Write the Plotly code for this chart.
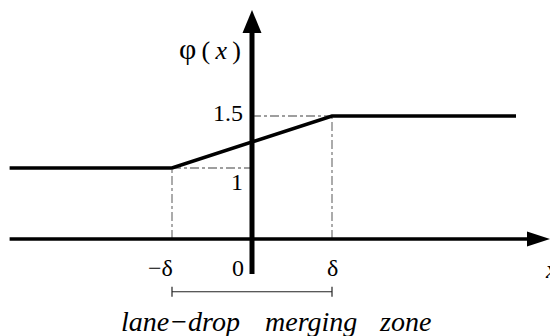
import plotly.graph_objects as go

# Piecewise merging-zone weight phi(x): flat at 1 before -delta, linear ramp, flat at 1.5 after delta
x_knots = [-3.03, -1.0, 1.0, 3.3]
phi_vals = [1.0, 1.0, 1.5, 1.5]
delta = 1.0
phi_low, phi_high = 1.0, 1.5

x_tick_pos = [-delta, 0.0, delta]
x_tick_text = ["\u2212\u03b4", "0", "\u03b4"]
y_tick_pos = [phi_high, phi_low]
y_tick_text = ["1.5", "1"]
zone_words = ["lane\u2212drop", "merging", "zone"]

W, H = 550, 336
X_RANGE = [-3.15, 3.725]
Y_RANGE = [1 - 168 / 104, 1 + 168 / 104]
X_AXIS_LEVEL = 0.317  # where the horizontal axis is drawn in this schematic
SERIF = "Liberation Serif"
INK = "#000000"
GUIDE = "#7f7f7f"

fig = go.Figure()

fig.add_trace(go.Scatter(
    x=x_knots, y=phi_vals, mode="lines",
    line=dict(color=INK, width=3.6), hoverinfo="skip", showlegend=False,
))

shapes = []
# guide lines from the break points to the axes
guide = dict(type="line", line=dict(color=GUIDE, width=1.3, dash="dashdot"), layer="below")
shapes.append(dict(guide, x0=-delta, x1=-delta, y0=X_AXIS_LEVEL, y1=phi_low))
shapes.append(dict(guide, x0=-delta, x1=0, y0=phi_low, y1=phi_low))
shapes.append(dict(guide, x0=delta, x1=delta, y0=X_AXIS_LEVEL, y1=phi_high))
shapes.append(dict(guide, x0=0, x1=delta, y0=phi_high, y1=phi_high))

# horizontal axis with arrowhead
shapes.append(dict(type="line", x0=-3.03, x1=3.45, y0=X_AXIS_LEVEL, y1=X_AXIS_LEVEL,
                   line=dict(color=INK, width=3.6)))
shapes.append(dict(type="path", xsizemode="pixel", ysizemode="pixel",
                   xanchor=X_RANGE[1], yanchor=X_AXIS_LEVEL,
                   path="M 0 0 L -23 7.5 L -23 -7.5 Z",
                   fillcolor=INK, line=dict(color=INK, width=0)))

# vertical axis with arrowhead
shapes.append(dict(type="line", x0=0, x1=0, y0=-0.02, y1=2.32,
                   line=dict(color=INK, width=5)))
shapes.append(dict(type="path", xsizemode="pixel", ysizemode="pixel",
                   xanchor=0, yanchor=1 + 158 / 104,
                   path="M 0 0 L -9.5 -23 L 9.5 -23 Z",
                   fillcolor=INK, line=dict(color=INK, width=0)))

# bracket marking the merging zone
br_y = -0.19
bracket = dict(type="line", line=dict(color="#222222", width=1.2))
shapes.append(dict(bracket, x0=-delta, x1=delta, y0=br_y, y1=br_y))
shapes.append(dict(bracket, x0=-delta, x1=-delta, y0=br_y - 0.048, y1=br_y + 0.048))
shapes.append(dict(bracket, x0=delta, x1=delta, y0=br_y - 0.048, y1=br_y + 0.048))

annotations = []
tick_font = dict(family=SERIF, size=24, color=INK)
annotations.append(dict(x=-0.09, y=y_tick_pos[0], text=y_tick_text[0], xanchor="right",
                        yanchor="middle", yshift=3, showarrow=False, font=tick_font))
annotations.append(dict(x=-0.09, y=y_tick_pos[1], text=y_tick_text[1], xanchor="right",
                        yanchor="top", yshift=1, showarrow=False, font=tick_font))
x_lab_shift = [-0.14, -0.18, 0.01]
for xv, dx, txt in zip(x_tick_pos, x_lab_shift, x_tick_text):
    annotations.append(dict(x=xv + dx, y=0.04, text=txt, xanchor="center", yanchor="middle",
                            showarrow=False, font=tick_font))

# axis titles
annotations.append(dict(
    x=-0.53, y=2.13, yshift=2,
    text="<span style='font-size:30px'>\u03c6</span>\u2009(\u2009<i>x</i>\u2009)",
    xanchor="center", yanchor="middle", showarrow=False,
    font=dict(family=SERIF, size=26, color=INK)))
annotations.append(dict(x=3.64, y=0.02, text="<i>x</i>", xanchor="left", yanchor="middle",
                        showarrow=False, font=dict(family=SERIF, size=26, color=INK)))

# merging-zone caption, one word group per slot under the bracket
word_x = [-0.90, 0.74, 1.91]
for wx, word in zip(word_x, zone_words):
    annotations.append(dict(x=wx, y=-0.51, yshift=4, text="<i>" + word + "</i>",
                            xanchor="center", yanchor="middle", showarrow=False,
                            font=dict(family=SERIF, size=28, color=INK)))

fig.update_layout(
    width=W, height=H,
    margin=dict(l=0, r=0, t=0, b=0),
    paper_bgcolor="white", plot_bgcolor="white",
    xaxis=dict(range=X_RANGE, visible=False, fixedrange=True),
    yaxis=dict(range=Y_RANGE, visible=False, fixedrange=True),
    shapes=shapes, annotations=annotations, showlegend=False,
)

fig.write_html("out.html", config={"displayModeBar": False})
